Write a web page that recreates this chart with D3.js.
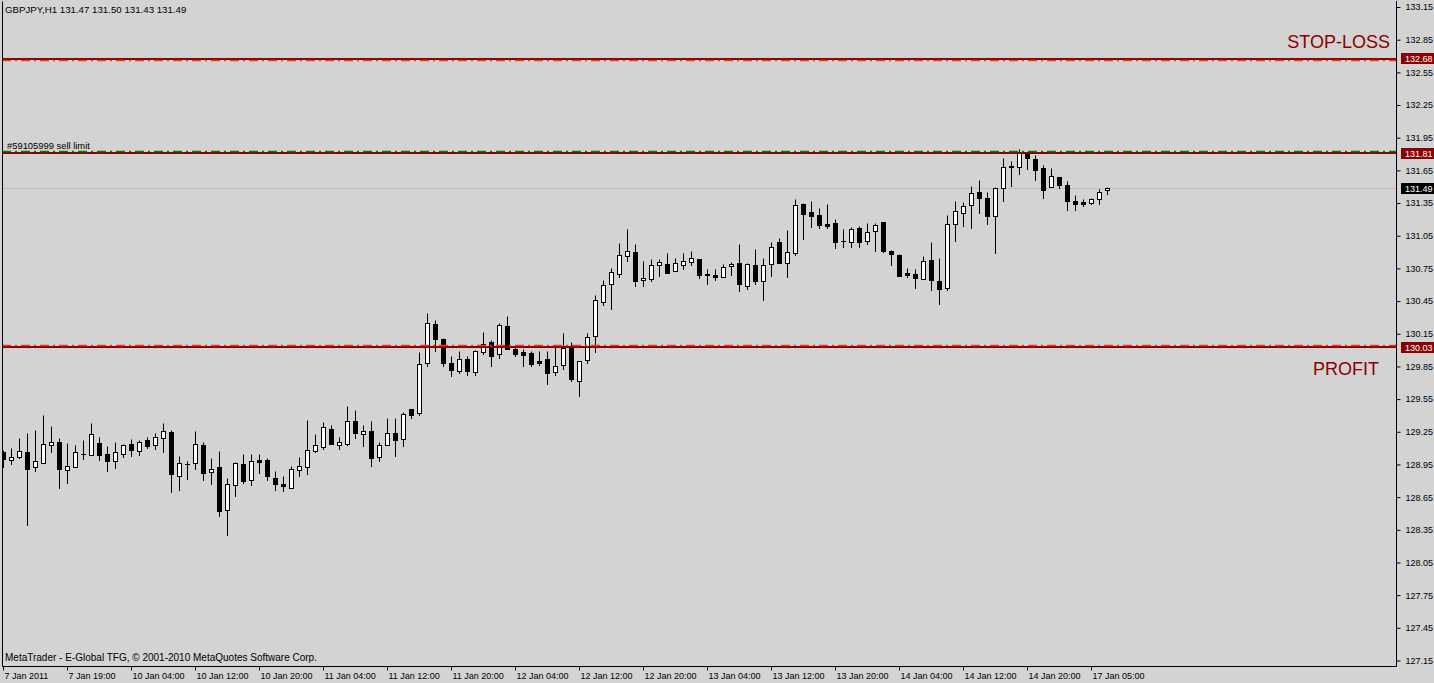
<!DOCTYPE html>
<html><head><meta charset="utf-8">
<script src="https://cdn.jsdelivr.net/npm/d3@7"></script>
<style>
body{margin:0;background:#d3d3d3;}
svg{display:block;}
text{font-family:"Liberation Sans",Arial,sans-serif;}
</style>
</head><body><svg id="c" width="1434" height="683"></svg>
<script>
// ---- data (hourly GBPJPY candles, bar index 0 = 7 Jan 2011 11:00) ----
const opens=[129.06,128.99,129.02,129.06,128.93,128.96,129.13,129.16,128.90,128.93,
129.045,129.04,129.15,129.05,128.98,129.05,129.14,129.07,129.17,129.13,
129.19,129.25,128.84,128.95,128.96,129.13,128.88,128.93,128.53,128.76,
128.95,128.81,128.99,128.99,128.83,128.77,128.73,128.90,128.93,129.07,
129.11,129.28,129.13,129.14,129.35,129.23,129.26,129.02,129.13,129.24,
129.18,129.46,129.42,129.88,130.24,130.10,129.88,129.81,129.92,129.80,
129.98,130.07,129.96,130.22,130.01,129.98,129.97,129.90,129.92,129.80,
129.86,130.03,129.72,129.91,130.13,130.44,130.61,130.70,130.86,130.90,
130.64,130.65,130.78,130.79,130.73,130.78,130.81,130.84,130.70,130.69,
130.67,130.77,130.80,130.59,130.78,130.63,130.79,130.99,130.80,130.89,
131.34,131.27,131.24,131.16,131.17,131.00,130.99,131.12,131.00,131.09,
131.18,130.91,130.87,130.71,130.70,130.65,130.83,130.63,130.57,131.16,
131.26,131.33,131.45,131.40,131.23,131.49,131.69,131.68,131.80,131.75,
131.67,131.50,131.59,131.52,131.37,131.36,131.35,131.39,131.47];
const highs=[129.08,129.10,129.19,129.24,129.27,129.40,129.30,129.19,129.15,129.13,
129.17,129.33,129.20,129.12,129.16,129.14,129.18,129.17,129.20,129.24,
129.33,129.27,129.03,128.98,129.26,129.16,129.01,129.07,128.83,128.97,
129.05,129.05,129.05,129.01,128.89,128.84,128.94,129.02,129.36,129.23,
129.34,129.31,129.20,129.49,129.45,129.31,129.35,129.16,129.38,129.38,
129.43,129.46,129.98,130.34,130.28,130.11,129.95,129.99,129.95,130.00,
130.17,130.09,130.25,130.31,130.05,130.01,129.99,129.99,129.99,130.03,
130.16,130.07,129.90,130.16,130.51,130.64,130.75,130.98,131.11,130.97,
130.82,130.84,130.84,130.89,130.85,130.89,130.91,130.84,130.74,130.74,
130.79,130.81,130.97,130.80,130.93,130.85,130.99,131.03,131.10,131.39,
131.35,131.37,131.30,131.34,131.20,131.11,131.13,131.14,131.17,131.17,
131.18,130.92,130.88,130.75,130.74,130.86,130.99,130.85,131.24,131.37,
131.36,131.51,131.56,131.45,131.50,131.76,131.74,131.85,131.81,131.79,
131.70,131.67,131.59,131.55,131.42,131.39,131.40,131.48,131.50];
const lows=[128.93,128.95,129.01,128.39,128.89,128.96,129.06,128.73,128.78,128.93,
129.00,129.04,128.99,128.89,128.92,129.02,129.03,129.04,129.10,129.09,
129.06,128.70,128.72,128.82,128.91,128.81,128.77,128.48,128.30,128.66,
128.78,128.76,128.87,128.81,128.72,128.71,128.73,128.84,128.86,129.06,
129.09,129.14,129.09,129.13,129.19,129.12,128.94,128.98,129.13,129.03,
129.12,129.38,129.40,129.85,129.99,129.85,129.76,129.79,129.77,129.77,
129.96,129.85,129.93,130.01,129.95,129.85,129.85,129.86,129.69,129.77,
129.83,129.72,129.58,129.88,129.98,130.41,130.38,130.67,130.82,130.59,
130.59,130.63,130.68,130.71,130.73,130.74,130.78,130.66,130.61,130.64,
130.67,130.69,130.54,130.56,130.61,130.46,130.68,130.80,130.67,130.87,
131.02,131.13,131.12,131.12,130.94,130.95,130.95,130.95,130.97,130.91,
130.90,130.78,130.68,130.67,130.57,130.65,130.55,130.42,130.55,131.00,
131.14,131.12,131.26,131.16,130.89,131.37,131.51,131.62,131.66,131.56,
131.40,131.50,131.49,131.29,131.29,131.32,131.34,131.34,131.43];
const closes=[129.00,129.02,129.07,128.91,128.98,129.14,129.16,128.91,128.94,129.06,
129.05,129.23,129.04,128.98,129.06,129.13,129.08,129.16,129.12,129.20,
129.26,128.86,128.96,128.955,129.14,128.87,128.91,128.52,128.77,128.96,
128.80,128.98,128.975,128.84,128.77,128.75,128.91,128.94,129.08,129.13,
129.29,129.14,129.16,129.35,129.24,129.26,129.01,129.13,129.24,129.17,
129.41,129.40,129.87,130.25,130.10,129.88,129.82,129.92,129.81,129.99,
130.06,129.95,130.23,130.01,129.96,129.955,129.87,129.88,129.79,129.85,
130.02,129.73,129.90,130.12,130.46,130.60,130.72,130.87,130.91,130.63,
130.66,130.78,130.81,130.71,130.80,130.82,130.85,130.69,130.69,130.67,
130.76,130.79,130.61,130.79,130.63,130.78,130.95,130.80,130.90,131.33,
131.25,131.23,131.15,131.14,130.99,131.00,131.11,130.99,131.08,131.15,
130.91,130.88,130.68,130.69,130.66,130.82,130.64,130.56,131.16,131.28,
131.32,131.44,131.40,131.23,131.49,131.68,131.68,131.81,131.76,131.65,
131.47,131.60,131.52,131.37,131.34,131.345,131.39,131.45,131.49];

const priceTicks=[127.15,127.45,127.75,128.05,128.35,128.65,128.95,129.25,129.55,129.85,
130.15,130.45,130.75,131.05,131.35,131.65,131.95,132.25,132.55,132.85,133.15];
const timeTickLabels=["7 Jan 2011","7 Jan 19:00","10 Jan 04:00","10 Jan 12:00","10 Jan 20:00",
"11 Jan 04:00","11 Jan 12:00","11 Jan 20:00","12 Jan 04:00","12 Jan 12:00","12 Jan 20:00",
"13 Jan 04:00","13 Jan 12:00","13 Jan 20:00","14 Jan 04:00","14 Jan 12:00","14 Jan 20:00","17 Jan 05:00"];
const timeTickBars=[0,8,16,24,32,40,48,56,64,72,80,88,96,104,112,120,128,136];

const lineLevels=[132.68,131.81,130.03];          // dark red horizontal lines
const orderLevels=[132.662,131.828,130.048];      // order lines (dashed)
const orderColors=["#e63c14","#008000","#e63c14"];
const levelTexts=["STOP-LOSS","","PROFIT"];
const bidPrice=131.49;
const titleText="GBPJPY,H1  131.47 131.50 131.43 131.49";
const orderText="#59105999 sell limit";
const footerText="MetaTrader - E-Global TFG, \u00a9 2001-2010 MetaQuotes Software Corp.";

// ---- layout ----
const W=1434,H=683;
const plot={l:2,t:1,r:1396,b:666};
const svg=d3.select("#c");
const BG="#d3d3d3", DR="#8b0000";
svg.append("rect").attr("width",W).attr("height",H).attr("fill",BG);

const x=d3.scaleLinear().domain([0,138]).range([3.5,3.5+8*138]);
const y=d3.scaleLinear().domain([127.15,133.15]).range([660.5,7]);
const py=v=>Math.round(y(v))+0.5;

svg.append("clipPath").attr("id","pc").append("rect")
  .attr("x",plot.l+0.5).attr("y",plot.t).attr("width",plot.r-plot.l-0.5).attr("height",plot.b-plot.t);
const g=svg.append("g").attr("clip-path","url(#pc)");

// bid line
g.append("line").attr("x1",plot.l).attr("x2",plot.r).attr("y1",py(bidPrice)).attr("y2",py(bidPrice))
  .attr("stroke","#bdbdbd").attr("stroke-width",1);

// candles
const idx=d3.range(opens.length);
const cg=g.append("g");
cg.selectAll("line.w").data(idx).join("line").attr("class","w")
  .attr("x1",i=>x(i)).attr("x2",i=>x(i))
  .attr("y1",i=>py(highs[i])).attr("y2",i=>py(lows[i])+0.5)
  .attr("stroke","#000").attr("stroke-width",1);
cg.selectAll("rect.b").data(idx).join("rect").attr("class","b")
  .attr("x",i=>x(i)-2).attr("width",4)
  .attr("y",i=>py(Math.max(opens[i],closes[i])))
  .attr("height",i=>Math.max(0.01,py(Math.min(opens[i],closes[i]))-py(Math.max(opens[i],closes[i]))))
  .attr("fill",i=>closes[i]>=opens[i]?"#fff":"#000")
  .attr("stroke","#000").attr("stroke-width",1);

// horizontal lines
lineLevels.forEach((lv,i)=>{
  const yy=Math.round(y(lv)+0.5);
  g.append("line").attr("x1",plot.l).attr("x2",plot.r)
    .attr("y1",yy).attr("y2",yy)
    .attr("stroke",DR).attr("stroke-width",2);
});
orderLevels.forEach((lv,i)=>{
  g.append("line").attr("x1",plot.l).attr("x2",plot.r)
    .attr("y1",py(lv)).attr("y2",py(lv))
    .attr("stroke",orderColors[i]).attr("stroke-width",1.3)
    .attr("stroke-dasharray","9,4,2,4");
});

// texts in the plot
svg.append("text").attr("x",5).attr("y",13).attr("font-size",9.7).attr("fill","#000").text(titleText);
svg.append("text").attr("x",7).attr("y",Math.round(y(lineLevels[1]))-4).attr("font-size",9.4).attr("fill","#000").text(orderText);
svg.append("text").attr("x",5).attr("y",661).attr("font-size",10).attr("fill","#000").text(footerText);
svg.append("text").attr("x",1390).attr("y",y(lineLevels[0])-10).attr("text-anchor","end")
  .attr("font-size",18).attr("fill",DR).text(levelTexts[0]);
svg.append("text").attr("x",1379).attr("y",y(lineLevels[2])+28).attr("text-anchor","end")
  .attr("font-size",18).attr("fill",DR).text(levelTexts[2]);

// frame
svg.append("path").attr("d",`M${plot.l+0.5},${plot.t+0.5}V${plot.b+0.5}H${plot.r+0.5}V${plot.t}`)
  .attr("fill","none").attr("stroke","#000").attr("stroke-width",1);

// right price axis
const ya=d3.axisRight(y).tickValues(priceTicks).tickSize(4).tickPadding(5).tickFormat(d3.format(".2f"));
const yg=svg.append("g").attr("transform",`translate(${plot.r+0.5},0)`).call(ya);
yg.select(".domain").remove();
yg.selectAll("text").attr("font-size",9).attr("font-family","Liberation Sans, Arial, sans-serif").attr("fill","#000");
yg.selectAll("line").attr("stroke","#000");

// price tags
const tags=[...lineLevels.map(v=>({v,bg:DR})),{v:bidPrice,bg:"#000"}];
tags.forEach(t=>{
  const yy=y(t.v);
  svg.append("rect").attr("x",1401).attr("y",Math.round(yy)-5).attr("width",33).attr("height",11).attr("fill",t.bg);
  svg.append("text").attr("x",1405).attr("y",Math.round(yy)+4).attr("font-size",9).attr("fill","#fff").text(d3.format(".2f")(t.v));
});

// bottom time axis
const xa=d3.axisBottom(x).tickValues(timeTickBars).tickSize(4).tickFormat((d,i)=>timeTickLabels[i]);
const xg=svg.append("g").attr("transform",`translate(-0.5,${plot.b+0.5})`).call(xa);
xg.select(".domain").remove();
xg.selectAll("line").attr("stroke","#000");
xg.selectAll("text").attr("text-anchor","start").attr("x",1).attr("y",6).attr("dy","0.71em")
  .attr("font-size",9).attr("font-family","Liberation Sans, Arial, sans-serif").attr("fill","#000");
</script>
</body></html>
